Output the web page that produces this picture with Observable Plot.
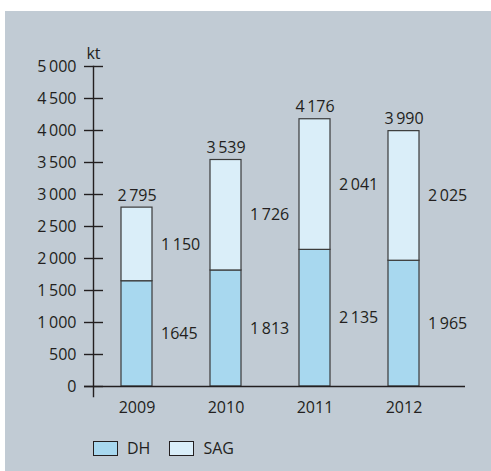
<!DOCTYPE html>
<html>
<head>
<meta charset="utf-8">
<script src="https://cdn.jsdelivr.net/npm/d3@7"></script>
<script src="https://cdn.jsdelivr.net/npm/@observablehq/plot@0.6"></script>
<style>
  html, body { margin: 0; padding: 0; background: #ffffff; }
  #wrap { position: relative; width: 491px; height: 471px; overflow: hidden; }
  #panel { position: absolute; left: 5px; top: 11px; right: 0; bottom: 0; background: #c1cbd4; }
  #chart { position: absolute; left: 0; top: 0; }
  #legend { position: absolute; left: 93px; top: 437px; display: flex; align-items: center;
            font-family: "Open Sans", sans-serif; font-size: 16px; color: #231f20; }
  .sw { width: 23px; height: 13px; border: 1px solid #231f20; display: inline-block; }
  .item { display: flex; align-items: center; }
  .lab { margin-left: 9px; }
</style>
</head>
<body>
<div id="wrap">
  <div id="panel"></div>
  <div id="chart"></div>
  <div id="legend"></div>
</div>
<script>
const years = ["2009", "2010", "2011", "2012"];
const dh = [1645, 1813, 2135, 1965];
const sag = [1150, 1726, 2041, 2025];
const totals = [2795, 3539, 4176, 3990];
const dhLabels = ["1645", "1\u2009813", "2\u2009135", "1\u2009965"];
const sagLabels = ["1\u2009150", "1\u2009726", "2\u2009041", "2\u2009025"];
const totalLabels = ["2\u2009795", "3\u2009539", "4\u2009176", "3\u2009990"];
const yTicks = [0, 500, 1000, 1500, 2000, 2500, 3000, 3500, 4000, 4500, 5000];
const yTickLabels = ["0", "500", "1\u2009000", "1\u2009500", "2\u2009000", "2\u2009500", "3\u2009000", "3\u2009500", "4\u2009000", "4\u2009500", "5\u2009000"];
const seriesNames = ["DH", "SAG"];
const seriesColors = ["#a8d8ef", "#daeef9"];

const ink = "#231f20";

const rows = [];
years.forEach((y, i) => {
  rows.push({year: y, series: "DH", value: dh[i], label: dhLabels[i]});
  rows.push({year: y, series: "SAG", value: sag[i], label: sagLabels[i]});
});
const totalRows = years.map((y, i) => ({year: y, value: totals[i], label: totalLabels[i]}));

const chart = Plot.plot({
  width: 491,
  height: 420,
  marginTop: 66,
  marginBottom: 34,
  marginLeft: 93,
  marginRight: 26,
  style: {background: "transparent", fontFamily: "'Open Sans', sans-serif", fontSize: "16px", color: ink},
  x: {domain: years, paddingInner: 0.654, paddingOuter: 0.405, align: 0.372, label: null},
  y: {domain: [0, 5000], label: null},
  color: {domain: seriesNames, range: seriesColors},
  marks: [
    Plot.barY(rows, Plot.stackY({x: "year", y: "value", fill: "series", z: "series", stroke: "#3a3a3a", strokeWidth: 1.2, order: seriesNames})),
    Plot.text(rows, Plot.stackY({x: "year", y: "value", z: "series", text: "label", order: seriesNames, textAnchor: "start", dx: 24, fill: ink})),
    Plot.text(totalRows, {x: "year", y: "value", text: "label", dy: -12, fill: ink}),
    Plot.ruleY([0], {stroke: ink, strokeWidth: 1.4, insetLeft: -9}),
    Plot.frame({anchor: "left", stroke: ink, strokeWidth: 1.4, insetBottom: -10}),
    Plot.axisY({ticks: yTicks, tickFormat: (d) => yTickLabels[yTicks.indexOf(d)], tickSize: 19, dx: 10, tickPadding: 8, stroke: ink, strokeWidth: 1.4, fill: ink, label: null}),
    Plot.axisX({tickSize: 0, tickPadding: 15, fill: ink, label: null}),
    Plot.text(["kt"], {frameAnchor: "top-left", dy: -19, textAnchor: "middle", fill: ink})
  ]
});
document.getElementById("chart").appendChild(chart);

const legend = document.getElementById("legend");
seriesNames.forEach((name, i) => {
  const item = document.createElement("span");
  item.className = "item";
  if (i > 0) item.style.marginLeft = "19px";
  const sw = document.createElement("span");
  sw.className = "sw";
  sw.style.background = seriesColors[i];
  const lab = document.createElement("span");
  lab.className = "lab";
  lab.textContent = name;
  item.appendChild(sw);
  item.appendChild(lab);
  legend.appendChild(item);
});
</script>
</body>
</html>
